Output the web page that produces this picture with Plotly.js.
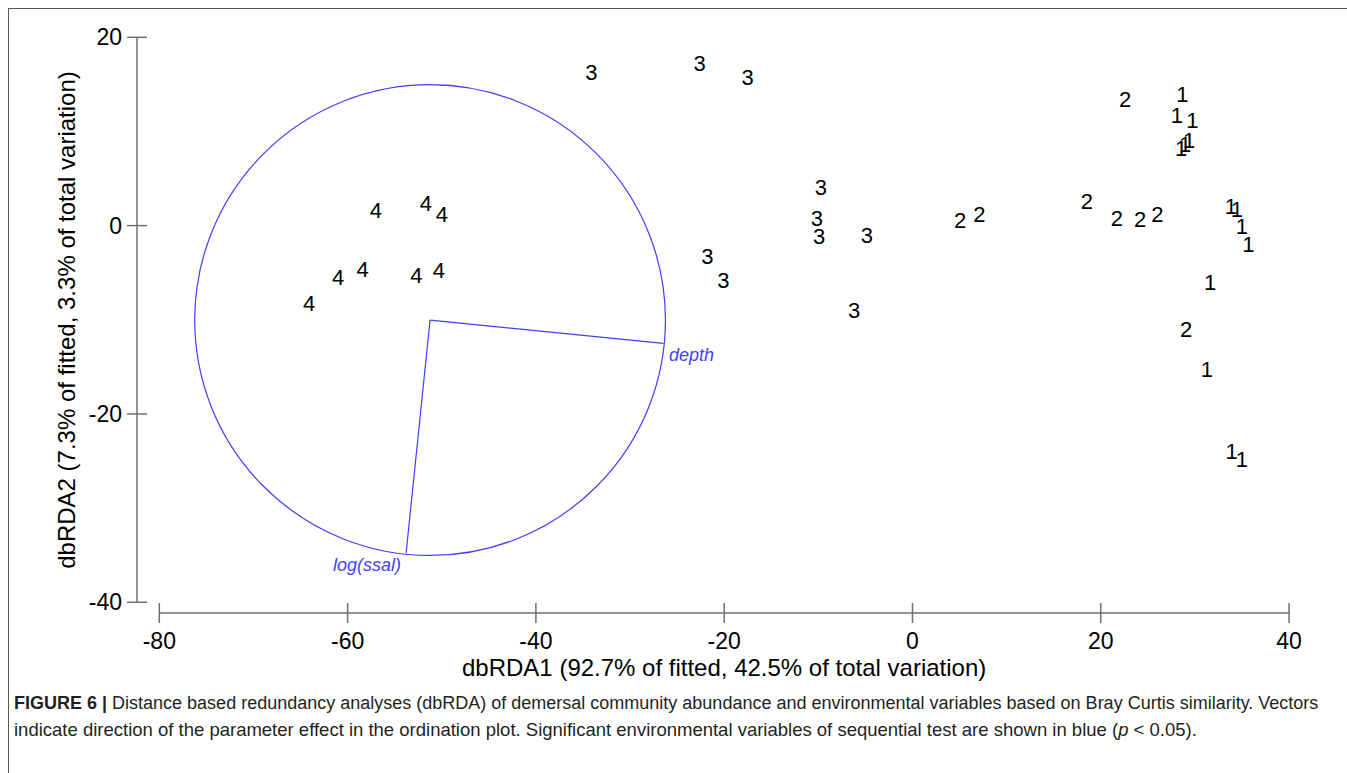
<!DOCTYPE html>
<html>
<head>
<meta charset="utf-8">
<script src="https://cdn.plot.ly/plotly-3.0.1.min.js"></script>
<style>
  html, body { margin: 0; padding: 0; background: #fff; overflow: hidden; }
  #chart { width: 1347px; height: 773px; }
  #frame { position: absolute; left: 8px; top: 8px; width: 1400px; height: 800px;
           border-top: 1.5px solid #555; border-left: 1.5px solid #555; pointer-events: none; }
</style>
</head>
<body>
<div id="chart"></div>
<div id="frame"></div>
<script>
// ---- Data ----
const group1X = [28.67, 28.07, 29.73, 28.53, 28.95, 29.38, 33.81, 34.45, 34.98, 35.68, 31.61, 31.26, 33.91, 34.98];
const group1Y = [13.69, 11.50, 10.93, 8.03, 8.45, 8.88, 1.84, 1.48, -0.29, -2.24, -6.20, -15.52, -24.19, -25.08];

const group2X = [22.58, 5.06, 7.11, 18.51, 21.70, 24.17, 26.01, 29.06];
const group2Y = [13.16, 0.31, 1.02, 2.37, 0.59, 0.41, 1.02, -11.27];

const group3X = [-34.1, -22.6, -17.5, -9.74, -10.16, -9.92, -4.85, -21.8, -20.1, -6.2];
const group3Y = [16.1, 17.0, 15.5, 3.86, 0.59, -1.35, -1.29, -3.5, -6.0, -9.2];

const group4X = [-64.1, -61.0, -58.4, -57.0, -52.7, -51.7, -50.3, -50.0];
const group4Y = [-8.5, -5.7, -4.9, 1.4, -5.5, 2.1, -5.0, 1.0];

const groupNames = ['1', '2', '3', '4'];

const circleCenter = [-51.24, -10.03];
const circleRadius = 25.0;
const vectorNames = ['depth', 'log(ssal)'];
const vectorEndX = [-26.46, -53.79];
const vectorEndY = [-12.50, -34.81];

const xTickVals = [-80, -60, -40, -20, 0, 20, 40];
const xTickText = ['-80', '-60', '-40', '-20', '0', '20', '40'];
const yTickVals = [-40, -20, 0, 20];
const yTickText = ['-40', '-20', '0', '20'];

const xTitle = 'dbRDA1 (92.7% of fitted, 42.5% of total variation)';
const yTitle = 'dbRDA2 (7.3% of fitted, 3.3% of total variation)';
const captionLine1 = '<b>FIGURE 6 |</b> Distance based redundancy analyses (dbRDA) of demersal community abundance and environmental variables based on Bray Curtis similarity. Vectors';
const captionLine2 = 'indicate direction of the parameter effect in the ordination plot. Significant environmental variables of sequential test are shown in blue (<i>p</i> &lt; 0.05).';

// ---- Layout geometry ----
const W = 1347, H = 773;
const M = { l: 137, r: 47, t: 30, b: 160 };
const plotW = W - M.l - M.r, plotH = H - M.t - M.b;
const px2paperX = px => (px - M.l) / plotW;
const px2paperY = py => (H - M.b - py) / plotH;

const FONT = "'Liberation Sans', Arial, sans-serif";
const BLUE = '#3f3fff';
const AXIS = '#6e6e6e';

const groupsX = [group1X, group2X, group3X, group4X];
const groupsY = [group1Y, group2Y, group3Y, group4Y];

const traces = groupNames.map((g, i) => ({
  type: 'scatter', mode: 'text',
  x: groupsX[i], y: groupsY[i],
  text: groupsX[i].map(() => g),
  textposition: 'middle center',
  textfont: { family: FONT, size: 22, color: '#000' },
  cliponaxis: false, hoverinfo: 'skip', name: 'Group ' + g
}));

// vectors as line traces
vectorNames.forEach((v, i) => {
  traces.push({
    type: 'scatter', mode: 'lines',
    x: [circleCenter[0], vectorEndX[i]], y: [circleCenter[1], vectorEndY[i]],
    line: { color: BLUE, width: 1.2 }, hoverinfo: 'skip', name: v
  });
});

const shapes = [];
// correlation circle
shapes.push({
  type: 'circle', xref: 'x', yref: 'y',
  x0: circleCenter[0] - circleRadius, x1: circleCenter[0] + circleRadius,
  y0: circleCenter[1] - circleRadius, y1: circleCenter[1] + circleRadius,
  line: { color: BLUE, width: 1.2 }
});
// y axis line + crossing ticks
shapes.push({ type: 'line', xref: 'paper', yref: 'y', x0: 0, x1: 0,
  y0: yTickVals[0], y1: yTickVals[yTickVals.length - 1], line: { color: AXIS, width: 1.5 } });
yTickVals.forEach(v => shapes.push({
  type: 'line', xref: 'paper', yref: 'y', xsizemode: 'pixel', xanchor: 0,
  x0: -10, x1: 10, y0: v, y1: v, line: { color: AXIS, width: 1.5 }
}));
// x axis line + crossing ticks
shapes.push({ type: 'line', xref: 'x', yref: 'paper', y0: 0, y1: 0,
  x0: xTickVals[0], x1: xTickVals[xTickVals.length - 1], line: { color: AXIS, width: 1.5 } });
xTickVals.forEach(v => shapes.push({
  type: 'line', xref: 'x', yref: 'paper', ysizemode: 'pixel', yanchor: 0,
  y0: -10, y1: 10, x0: v, x1: v, line: { color: AXIS, width: 1.5 }
}));

const annotations = [
  { text: '<i>' + vectorNames[0] + '</i>', x: vectorEndX[0], y: vectorEndY[0], xref: 'x', yref: 'y',
    xanchor: 'left', yanchor: 'middle', xshift: 4, yshift: -12, showarrow: false,
    font: { family: FONT, size: 18, color: BLUE } },
  { text: '<i>' + vectorNames[1] + '</i>', x: vectorEndX[1], y: vectorEndY[1], xref: 'x', yref: 'y',
    xanchor: 'right', yanchor: 'middle', xshift: -3, yshift: -12, showarrow: false,
    font: { family: FONT, size: 18, color: BLUE } },
  { text: xTitle, x: (xTickVals[0] + xTickVals[xTickVals.length - 1]) / 2, xref: 'x',
    y: px2paperY(667), yref: 'paper', xanchor: 'center', yanchor: 'middle', showarrow: false,
    font: { family: FONT, size: 24, color: '#000' } },
  { text: yTitle, y: (yTickVals[0] + yTickVals[yTickVals.length - 1]) / 2, yref: 'y',
    x: px2paperX(67), xref: 'paper', xanchor: 'center', yanchor: 'middle', textangle: -90,
    showarrow: false, font: { family: FONT, size: 24, color: '#000' } },
  { text: captionLine1, x: px2paperX(12), y: px2paperY(703), xref: 'paper', yref: 'paper',
    xanchor: 'left', yanchor: 'middle', showarrow: false, align: 'left',
    font: { family: FONT, size: 18, color: '#231f20' } },
  { text: captionLine2, x: px2paperX(12), y: px2paperY(729), xref: 'paper', yref: 'paper',
    xanchor: 'left', yanchor: 'middle', showarrow: false, align: 'left',
    font: { family: FONT, size: 18.5, color: '#231f20' } }
];

const layout = {
  width: W, height: H, margin: M,
  paper_bgcolor: '#fff', plot_bgcolor: 'rgba(0,0,0,0)',
  showlegend: false,
  xaxis: { range: [-82.37, 41.16], showgrid: false, zeroline: false, showline: false,
    ticks: '', tickmode: 'array', tickvals: xTickVals, ticktext: xTickText,
    ticklabelstandoff: 12, tickfont: { family: FONT, size: 23, color: '#000' }, fixedrange: true },
  yaxis: { range: [-41.14, 20.775], showgrid: false, zeroline: false, showline: false,
    ticks: '', tickmode: 'array', tickvals: yTickVals, ticktext: yTickText,
    ticklabelstandoff: 14, tickfont: { family: FONT, size: 23, color: '#000' }, fixedrange: true },
  shapes: shapes,
  annotations: annotations
};

Plotly.newPlot('chart', traces, layout, { displayModeBar: false, staticPlot: true });
</script>
</body>
</html>
